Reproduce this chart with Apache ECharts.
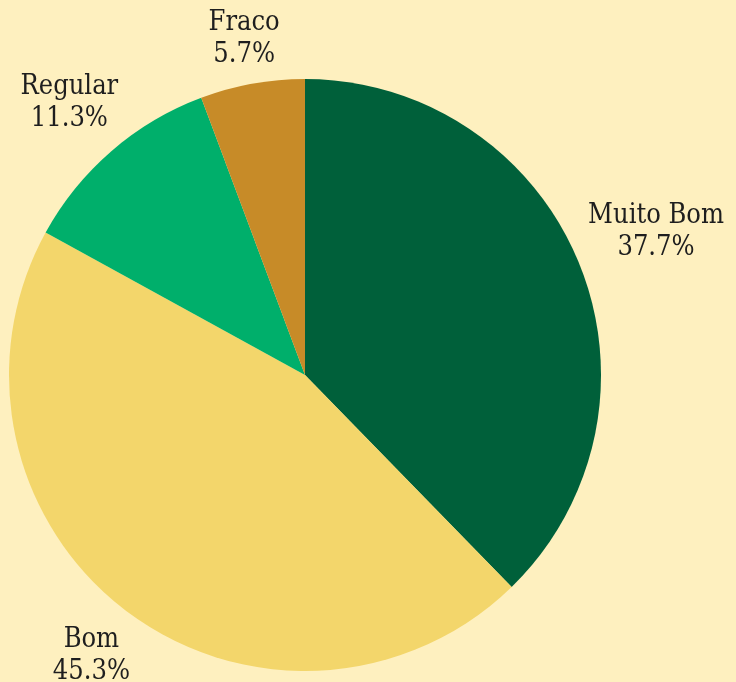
<!DOCTYPE html>
<html>
<head>
<meta charset="utf-8">
<script src="https://cdn.jsdelivr.net/npm/echarts@6/dist/echarts.min.js"></script>
<style>
  html, body { margin: 0; padding: 0; background: #fef0bf; }
  #chart { width: 736px; height: 682px; }
</style>
</head>
<body>
<div id="chart"></div>
<script>
// categorias e percentagens (sentido horário a partir do topo)
const categories = ['Muito Bom', 'Bom', 'Regular', 'Fraco']
const values = [37.7, 45.3, 11.3, 5.7]
const colors = ['#00603a', '#f3d66b', '#00af6b', '#c78b28']

const chart = echarts.init(document.getElementById('chart'))

const pieData = categories.map((name, i) => ({
  name: name,
  value: values[i],
  itemStyle: { color: colors[i] }
}))

const option = {
  backgroundColor: '#fef0bf',
  animation: false,
  series: [{
    type: 'pie',
    center: [305, 375],
    radius: 296,
    startAngle: 90,
    clockwise: true,
    avoidLabelOverlap: false,
    data: pieData,
    itemStyle: { borderWidth: 0 },
    emphasis: { disabled: true },
    label: {
      position: 'outside',
      formatter: p => p.name + '\n' + p.value.toFixed(1) + '%',
      fontFamily: 'DejaVu Serif Condensed',
      fontSize: 27,
      lineHeight: 32,
      color: '#1e1e1e'
    },
    // linha invisível, só para saber a direcção do rótulo
    labelLine: { show: true, length: 20, length2: 0, lineStyle: { opacity: 0 } },
    labelLayout: function (params) {
      const pts = params.labelLinePoints
      if (!pts) return {}
      let dx = pts[1][0] - pts[0][0]
      let dy = pts[1][1] - pts[0][1]
      const len = Math.sqrt(dx * dx + dy * dy) || 1
      dx /= len; dy /= len
      const w = params.labelRect.width, h = params.labelRect.height
      const d = 8 + w / 2 * Math.abs(dx) + h / 2 * Math.abs(dy)
      return {
        x: pts[0][0] + dx * d,
        y: pts[0][1] + dy * d,
        align: 'center',
        verticalAlign: 'middle'
      }
    }
  }]
}

chart.setOption(option)
</script>
</body>
</html>
